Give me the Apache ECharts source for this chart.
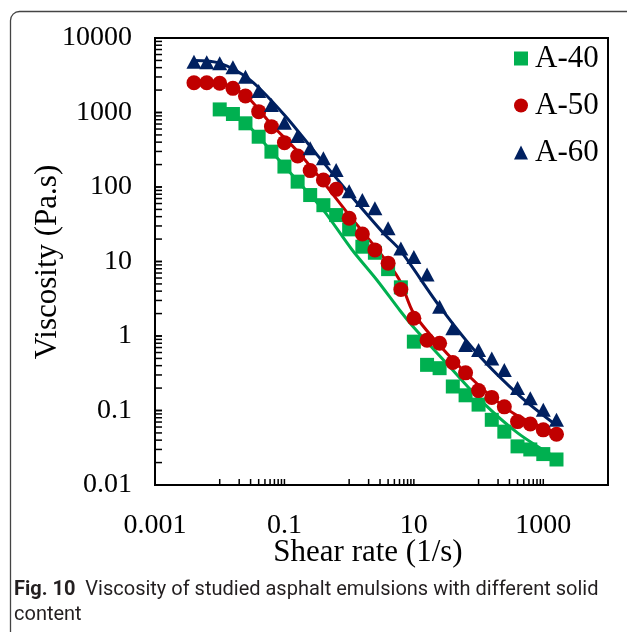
<!DOCTYPE html>
<html><head><meta charset="utf-8">
<script src="https://cdn.jsdelivr.net/npm/echarts@6/dist/echarts.min.js"></script>
<style>html,body{margin:0;padding:0;background:#fff}#c{width:627px;height:632px}</style>
</head><body><div id="c"></div>
<script>
// ---- data ----
const shearRate = [0.004, 0.0063, 0.01, 0.016, 0.025, 0.04, 0.063, 0.1, 0.16, 0.25, 0.4, 0.63, 1, 1.6, 2.5, 4, 6.3, 10, 16, 25, 40, 63, 100, 160, 250, 400, 630, 1000, 1600];
const visA40 = [null, null, 1100, 955, 716, 473, 298, 188, 118, 78, 57, 42, 27, 15.8, 13.1, 7.9, 4.5, 0.84, 0.41, 0.37, 0.21, 0.16, 0.12, 0.075, 0.052, 0.033, 0.030, 0.026, 0.022];
const visA50 = [2510, 2510, 2470, 2110, 1665, 1026, 646, 394, 261, 166, 124, 93, 38, 23.4, 14.3, 9.5, 4.2, 1.73, 0.88, 0.80, 0.44, 0.32, 0.185, 0.15, 0.112, 0.071, 0.066, 0.055, 0.048];
const visA60 = [4800, 4720, 4570, 4050, 3030, 1945, 1262, 730, 484, 330, 243, 169, 88, 67, 52, 28, 15, 11.5, 6.7, 2.47, 1.27, 0.76, 0.65, 0.50, 0.35, 0.20, 0.146, 0.102, 0.075];

// fitted curves
const fitRateA40 = [0.01, 0.025, 0.063, 0.16, 0.4, 1.1, 2.7, 6.1, 10, 32, 105, 400, 1600];
const fitVisA40  = [1100, 720, 300, 120, 49, 14.5, 5.6, 2.2, 1.3, 0.43, 0.14, 0.05, 0.023];
const fitRateA50 = [0.004, 0.01, 0.025, 0.063, 0.16, 0.4, 1, 4, 6.3, 10, 32, 105, 345, 1600];
const fitVisA50  = [2550, 2450, 1700, 690, 300, 116, 42, 9.5, 5.2, 2.0, 0.59, 0.21, 0.092, 0.05];
const fitRateA60 = [0.004, 0.01, 0.03, 0.1, 0.32, 1, 3.4, 6.1, 25, 105, 440, 1430];
const fitVisA60  = [5000, 4600, 2700, 925, 270, 82, 24, 14.3, 2.5, 0.53, 0.155, 0.068];

const seriesNames = ['A-40', 'A-50', 'A-60'];
const xTickLabels = ['0.001', '0.1', '10', '1000'];
const yTickLabels = ['0.01', '0.1', '1', '10', '100', '1000', '10000'];
const xTickDecades = [0.01, 1, 100];
const yTickDecades = [0.01, 0.1, 1, 10, 100, 1000];
const tickMultipliers = [1, 2, 3, 4, 5, 6, 7, 8, 9, 10];

// ---- styles ----
const X_MIN = 0.001, X_MAX = 10000, Y_MIN = 0.01, Y_MAX = 10000;
const colors = ['#00B050', '#C00000', '#002060'];
const serif = 'Liberation Serif';

function pairs(xs, ys) { const o = []; xs.forEach((x, i) => { if (ys[i] != null) o.push([x, ys[i]]); }); return o; }
const xLabelMap = {}; xTickLabels.forEach(s => { xLabelMap[Math.round(Math.log10(parseFloat(s)))] = s; });
const yLabelMap = {}; yTickLabels.forEach(s => { yLabelMap[Math.round(Math.log10(parseFloat(s)))] = s; });
const xTickVals = []; xTickDecades.forEach(d => tickMultipliers.forEach(m => xTickVals.push([d * m, Y_MIN])));
const yTickVals = []; yTickDecades.forEach(d => tickMultipliers.forEach(m => yTickVals.push([X_MIN, d * m])));

const chart = echarts.init(document.getElementById('c'), null, {renderer: 'canvas'});
const option = {
  animation: false,
  backgroundColor: '#fff',
  grid: {left: 155, top: 38, right: 19, bottom: 147, show: true, borderColor: '#000', borderWidth: 2, backgroundColor: 'transparent'},
  xAxis: {
    type: 'log', logBase: 10, min: X_MIN, max: X_MAX,
    axisLine: {show: false}, axisTick: {show: false}, splitLine: {show: false},
    axisLabel: {margin: 27, fontFamily: serif, fontSize: 28, color: '#000', showMinLabel: true, showMaxLabel: true, hideOverlap: false,
      formatter: v => xLabelMap[Math.round(Math.log10(v))] || ''}
  },
  yAxis: {
    type: 'log', logBase: 10, min: Y_MIN, max: Y_MAX,
    axisLine: {show: false}, axisTick: {show: false}, splitLine: {show: false},
    axisLabel: {margin: 23, fontFamily: serif, fontSize: 28, color: '#000', showMinLabel: true, showMaxLabel: true, hideOverlap: false,
      formatter: v => yLabelMap[Math.round(Math.log10(v))] || ''}
  },
  legend: {
    orient: 'vertical', left: 509, top: 38, itemWidth: 14, itemHeight: 14, itemGap: 16,
    data: seriesNames,
    textStyle: {fontFamily: serif, fontSize: 31, color: '#000', padding: [0, 0, 0, 2]}
  },
  series: [
    {type: 'line', data: pairs(fitRateA40, fitVisA40), smooth: 0.3, showSymbol: false, lineStyle: {color: colors[0], width: 3}, silent: true, z: 2},
    {type: 'line', data: pairs(fitRateA50, fitVisA50), smooth: 0.3, showSymbol: false, lineStyle: {color: colors[1], width: 3}, silent: true, z: 2},
    {type: 'line', data: pairs(fitRateA60, fitVisA60), smooth: 0.3, showSymbol: false, lineStyle: {color: colors[2], width: 3}, silent: true, z: 2},
    {name: seriesNames[0], type: 'scatter', data: pairs(shearRate, visA40), symbol: 'rect', symbolSize: 14, itemStyle: {color: colors[0], opacity: 1}, z: 3},
    {name: seriesNames[1], type: 'scatter', data: pairs(shearRate, visA50), symbol: 'circle', symbolSize: 15, itemStyle: {color: colors[1], opacity: 1}, z: 4},
    {name: seriesNames[2], type: 'scatter', data: pairs(shearRate, visA60), symbol: 'triangle', symbolSize: [15, 14], itemStyle: {color: colors[2], opacity: 1}, z: 5},
    {type: 'custom', data: xTickVals, silent: true, clip: false, z: 6,
      renderItem: (p, api) => { const c = api.coord([api.value(0), api.value(1)]);
        return {type: 'line', shape: {x1: c[0], y1: c[1], x2: c[0], y2: c[1] - 6}, style: {stroke: '#000', lineWidth: 1.5}}; }},
    {type: 'custom', data: yTickVals, silent: true, clip: false, z: 6,
      renderItem: (p, api) => { const c = api.coord([api.value(0), api.value(1)]);
        return {type: 'line', shape: {x1: c[0], y1: c[1], x2: c[0] + 7, y2: c[1]}, style: {stroke: '#000', lineWidth: 1.5}}; }}
  ],
  graphic: [
    {type: 'rect', shape: {x: 10.5, y: 11.5, width: 700, height: 700, r: 9}, style: {fill: 'none', stroke: '#444', lineWidth: 1.3}, silent: true},
    {type: 'text', x: 48, y: 262, rotation: Math.PI / 2, silent: true,
      style: {text: 'Viscosity (Pa.s)', fontFamily: serif, fontSize: 31, fill: '#000', align: 'center', verticalAlign: 'middle'}},
    {type: 'text', x: 368, y: 553, silent: true,
      style: {text: 'Shear rate (1/s)', fontFamily: serif, fontSize: 31, fill: '#000', align: 'center', verticalAlign: 'middle'}},
    {type: 'text', x: 14, y: 577, silent: true,
      style: {text: '{b|Fig. 10}  Viscosity of studied asphalt emulsions with different solid\ncontent',
        fontFamily: 'Roboto', fontSize: 20, fill: '#231f20', lineHeight: 25,
        rich: {b: {fontFamily: 'Roboto', fontSize: 20, fontWeight: 'bold', fill: '#231f20', lineHeight: 25}}}}
  ]
};
chart.setOption(option);
</script>
</body></html>
